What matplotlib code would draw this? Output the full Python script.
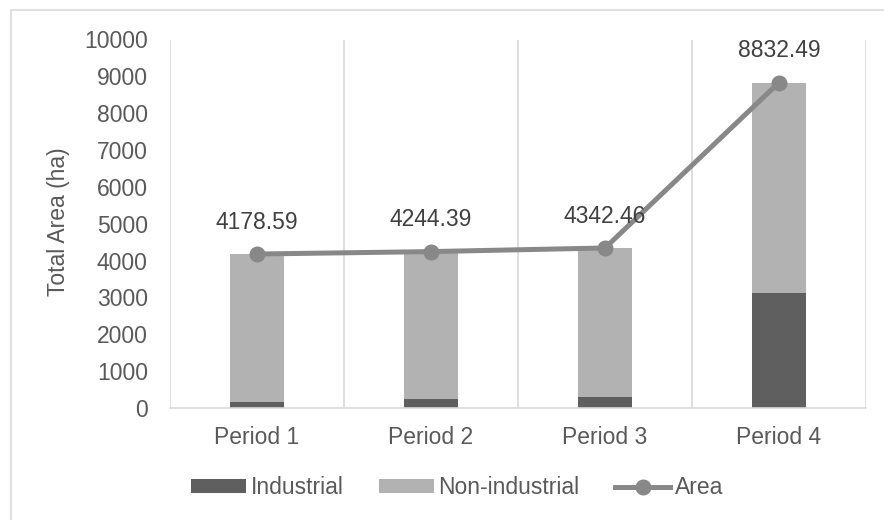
import matplotlib.pyplot as plt
import numpy as np
from matplotlib.patches import Rectangle

plt.rcParams['font.family'] = ['Liberation Sans', 'DejaVu Sans']

periods = ['Period 1', 'Period 2', 'Period 3', 'Period 4']
total_area = [4178.59, 4244.39, 4342.46, 8832.49]
industrial = [155, 245, 290, 3130]
non_industrial = [t - i for t, i in zip(total_area, industrial)]

txt = '#595959'
grid = '#D9D9D9'
c_ind = '#5F5F5F'
c_non = '#B2B2B2'
c_line = '#888888'
fs = 16.5

fig = plt.figure(figsize=(8.84, 5.2), dpi=100)
ax = fig.add_axes([170/884, 112/520, 696/884, 368.5/520])

x = np.arange(len(periods))
b1 = ax.bar(x, industrial, width=0.31, color=c_ind, label='Industrial', zorder=2)
b2 = ax.bar(x, non_industrial, width=0.31, bottom=industrial, color=c_non,
            label='Non-industrial', zorder=2)
ln, = ax.plot(x, total_area, color=c_line, lw=3.6, marker='o', ms=10.5,
              label='Area', zorder=3)

for xi, v in zip(x, total_area):
    ax.annotate(f'{v:.2f}', (xi, v), xytext=(0, 23), textcoords='offset points',
                ha='center', va='center', fontsize=fs, color='#404040')

# category separators
for b in np.arange(-0.5, len(periods), 1):
    ax.axvline(b, color=grid, lw=1.2, zorder=1)

ax.set_xlim(-0.5, len(periods) - 0.5)
ax.set_ylim(0, 10000)
ax.set_yticks(np.arange(0, 10001, 1000))
ax.set_xticks(x)
ax.set_xticklabels(periods)
ax.tick_params(length=0, labelsize=fs, colors=txt)
ax.tick_params(axis='y', pad=16)
ax.tick_params(axis='x', pad=13)
for s in ['top', 'left', 'right']:
    ax.spines[s].set_visible(False)
ax.spines['bottom'].set_color(grid)
ax.spines['bottom'].set_linewidth(1.2)

fig.text(59/884, 1 - 222/520, 'Total Area (ha)', rotation=90, ha='center',
         va='center', fontsize=fs, color=txt)

fig.legend([b1, b2, ln], ['Industrial', 'Non-industrial', 'Area'],
           loc='center', bbox_to_anchor=(457/884, 1 - 488/520), ncol=3,
           frameon=False, fontsize=fs, labelcolor=txt, handlelength=2.4,
           handletextpad=0.2, columnspacing=1.55, handleheight=0.55)

# chart area border
fig.patches.append(Rectangle((11/884, -0.1), 1.2, 1 - 9.5/520 + 0.1,
                             transform=fig.transFigure, fill=False,
                             edgecolor=grid, lw=1.2))

fig.savefig('out.png', dpi=100)
